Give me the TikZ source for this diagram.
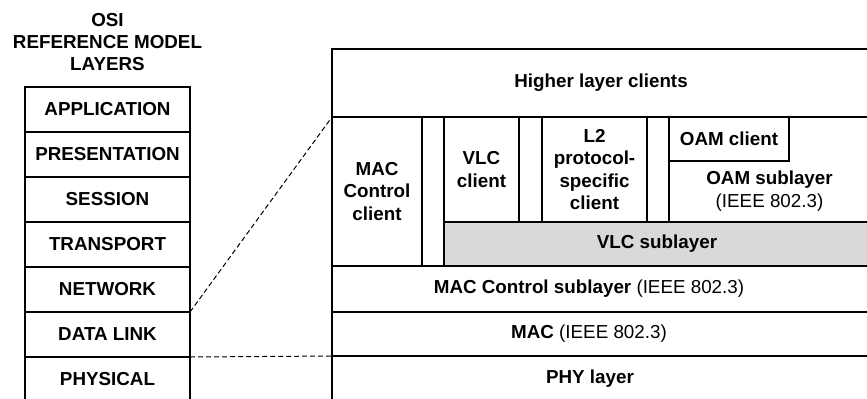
\documentclass[tikz,border=0pt]{standalone}
\usepackage{fontspec}
\setmainfont{Liberation Sans}
\usetikzlibrary{positioning}

\begin{document}
\begin{tikzpicture}[x=0.5pt,y=-0.5pt,
                    layer/.style={draw=black,line width=0.9pt,inner sep=0pt,outer sep=0pt,align=center,
                                  font=\fontsize{9.4}{11.2}\selectfont\bfseries},
                    txt/.style={inner sep=0pt,align=center,font=\fontsize{9.4}{11.2}\selectfont\bfseries},
                    link/.style={dashed,line width=0.5pt,dash pattern=on 2.5pt off 1.5pt}
                ]
                    \useasboundingbox (0,0) rectangle (867,398);
                    % OSI stack
                    \node[txt] (title) at (107.5,42) {OSI\\REFERENCE MODEL\\LAYERS};
                    \foreach \name [count=\i] in {APPLICATION,PRESENTATION,SESSION,TRANSPORT,NETWORK,DATA LINK,PHYSICAL}
                        {
                        \node[layer,minimum width=82.5pt,minimum height=22.5pt] (osi\i) at (107.5,109.5+45*\i-45) {\name};
                    }
                    % IEEE 802.3 side
                    \node[layer,minimum width=269pt,minimum height=34pt] (hlc) at (601,83) {Higher layer clients};
                    \node[layer,minimum width=45pt,minimum height=74.5pt] (mccl) at (377,191.5) {MAC\\Control\\client};
                    \node[layer,minimum width=11pt,minimum height=74.5pt] (gapa) at (433,191.5) {};
                    \node[layer,minimum width=37.5pt,minimum height=52.5pt] (vlccl) at (481.5,169.5) {VLC\\client};
                    \node[layer,minimum width=11.5pt,minimum height=52.5pt] (gapb) at (530.5,169.5) {};
                    \node[layer,minimum width=52.5pt,minimum height=52.5pt] (l2cl) at (594.5,169.5) {L2\\protocol-\\specific\\client};
                    \node[layer,minimum width=11pt,minimum height=52.5pt] (gapc) at (658,169.5) {};
                    \node[layer,minimum width=100.5pt,minimum height=52.5pt] (oams) at (769.5,169.5) {};
                    \node[txt] (oamstxt) at (769.5,191) {OAM sublayer\\\mdseries(IEEE 802.3)};
                    \node[layer,minimum width=60pt,minimum height=22pt] (oamcl) at (729,139) {OAM client};
                    \node[layer,fill=black!15,minimum width=213pt,minimum height=22pt] (vlcs) at (657,244) {VLC sublayer};
                    \node[layer,minimum width=269pt,minimum height=23pt] (mcs) at (601,289) {};
                    \node[txt] (mcstxt) at (589,289) {MAC Control sublayer \mdseries(IEEE 802.3)};
                    \node[layer,minimum width=269pt,minimum height=22pt] (mac) at (601,334) {};
                    \node[txt] (mactxt) at (589,334) {MAC \mdseries(IEEE 802.3)};
                    \node[layer,minimum width=269pt,minimum height=23pt] (phy) at (601,379) {};
                    \node[txt] (phytxt) at (590,379) {PHY layer};
                    % mapping
                    \draw[link] (osi5.south east) -- (hlc.south west);
                    \draw[link] (osi6.south east) -- (mac.south west);
                \end{tikzpicture}
\end{document}
